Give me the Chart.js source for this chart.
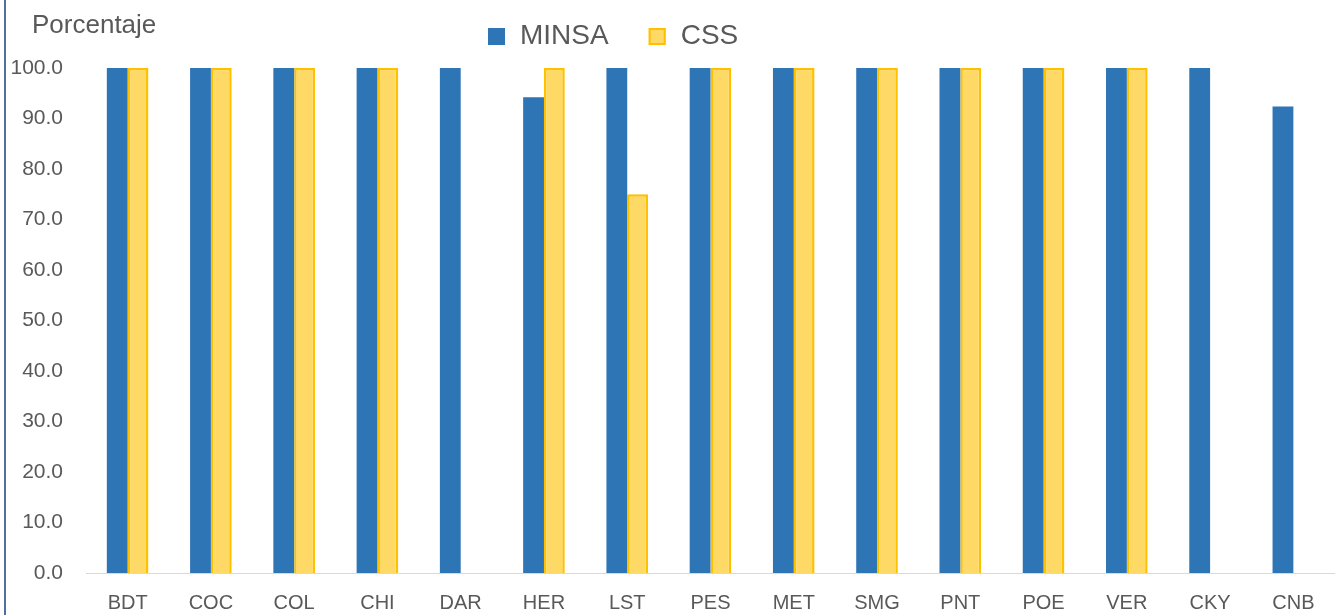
<!DOCTYPE html>
<html>
<head>
<meta charset="utf-8">
<script src="https://cdn.jsdelivr.net/npm/chart.js@4"></script>
<style>
  html, body { margin: 0; padding: 0; background: #fff; }
  #wrap { width: 1335px; height: 615px; }
</style>
</head>
<body>
<div id="wrap"><canvas id="myChart" width="1335" height="615"></canvas></div>
<script>
const regiones = ['BDT', 'COC', 'COL', 'CHI', 'DAR', 'HER', 'LST', 'PES', 'MET', 'SMG', 'PNT', 'POE', 'VER', 'CKY', 'CNB'];
const minsaData = [100, 100, 100, 100, 100, 94.2, 100, 100, 100, 100, 100, 100, 100, 100, 92.4];
const cssData = [100, 100, 100, 100, null, 100, 75, 100, 100, 100, 100, 100, 100, null, null];
const yTitle = 'Porcentaje';

const textColor = '#595959';

// left frame line, y title and legend drawn by hand
const extras = {
  id: 'extras',
  afterDraw(chart) {
    const ctx = chart.ctx;
    ctx.save();
    ctx.fillStyle = '#4f6f9f';
    ctx.fillRect(4, 0, 2, 615);

    ctx.fillStyle = textColor;
    ctx.font = '26px "Liberation Sans", Arial, sans-serif';
    ctx.textAlign = 'left';
    ctx.textBaseline = 'alphabetic';
    ctx.fillText(yTitle, 32, 33);

    // legend
    let x = 488;
    const yc = 36.5;
    ctx.font = '28px "Liberation Sans", Arial, sans-serif';
    ctx.textBaseline = 'middle';
    chart.data.datasets.forEach(ds => {
      ctx.fillStyle = ds.backgroundColor;
      ctx.fillRect(x, yc - 8.5, 17, 17);
      if (ds.borderWidth) {
        ctx.strokeStyle = ds.borderColor;
        ctx.lineWidth = 2;
        ctx.strokeRect(x + 1, yc - 7.5, 15, 15);
      }
      ctx.fillStyle = textColor;
      ctx.fillText(ds.label, x + 32, yc);
      x += 32 + ctx.measureText(ds.label).width + 40;
    });
    ctx.restore();
  }
};

const ctx = document.getElementById('myChart').getContext('2d');
new Chart(ctx, {
  type: 'bar',
  data: {
    labels: regiones,
    datasets: [{
      label: 'MINSA',
      data: minsaData,
      backgroundColor: '#2E75B6',
      borderWidth: 0
    }, {
      label: 'CSS',
      data: cssData,
      backgroundColor: '#FFD966',
      borderColor: '#FFC000',
      borderWidth: 2.5
    }]
  },
  options: {
    responsive: false,
    animation: false,
    categoryPercentage: 0.5,
    barPercentage: 1.0,
    layout: { padding: { top: 68, left: 0, right: 0, bottom: 0 } },
    plugins: {
      legend: { display: false },
      tooltip: { enabled: false }
    },
    scales: {
      x: {
        grid: { display: false, drawTicks: false },
        border: { display: true, color: '#d9d9d9', width: 1 },
        ticks: {
          color: textColor,
          padding: 18,
          font: { size: 20, family: '"Liberation Sans", Arial, sans-serif' },
          maxRotation: 0
        },
        afterFit(scale) { scale.height = 42; }
      },
      y: {
        min: 0,
        max: 100,
        grid: { display: false, drawTicks: false },
        border: { display: false },
        ticks: {
          stepSize: 10,
          color: textColor,
          padding: 23,
          font: { size: 21, family: '"Liberation Sans", Arial, sans-serif' },
          callback: v => v.toFixed(1)
        },
        afterFit(scale) { scale.width = 86; }
      }
    }
  },
  plugins: [extras]
});
</script>
</body>
</html>
